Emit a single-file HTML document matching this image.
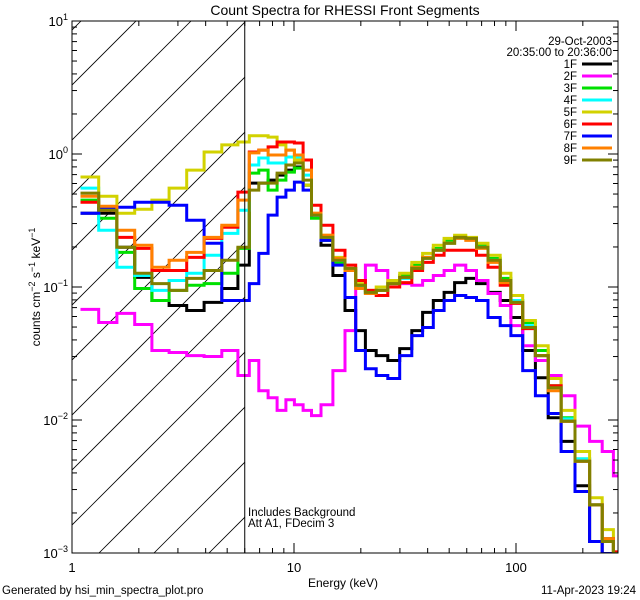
<!DOCTYPE html>
<html><head><meta charset="utf-8"><style>
html,body{margin:0;padding:0;background:#fff;}
svg{display:block;font-family:"Liberation Sans",sans-serif;}
</style></head><body>
<svg id="chart" width="640" height="600" viewBox="0 0 640 600" xmlns="http://www.w3.org/2000/svg">
<defs><clipPath id="plotclip"><rect x="72" y="21" width="546" height="532"/></clipPath>
<clipPath id="hatchclip"><rect x="72" y="21" width="172.7" height="532"/></clipPath></defs>
<rect width="640" height="600" fill="#fff"/>
<text x="345" y="15" font-size="14" text-anchor="middle">Count Spectra for RHESSI Front Segments</text>
<g id="hatch" clip-path="url(#hatchclip)"></g>
<g id="series" clip-path="url(#plotclip)"></g>
<g id="axes"></g>
<text x="248" y="516" font-size="11.5">Includes Background</text>
<text x="248" y="527" font-size="11.5">Att A1, FDecim  3</text>
<text x="343" y="587" font-size="12" text-anchor="middle">Energy (keV)</text>
<text transform="translate(40,287) rotate(-90)" font-size="12" text-anchor="middle">counts cm<tspan dy="-5" font-size="9">−2</tspan><tspan dy="5"> s</tspan><tspan dy="-5" font-size="9">−1</tspan><tspan dy="5"> keV</tspan><tspan dy="-5" font-size="9">−1</tspan></text>
<text x="2" y="594" font-size="11.5">Generated by hsi_min_spectra_plot.pro</text>
<text x="636" y="594" font-size="11.5" text-anchor="end">11-Apr-2023 19:24</text>
<text x="612" y="45" font-size="11.5" text-anchor="end">29-Oct-2003</text>
<text x="612" y="56" font-size="11.5" text-anchor="end">20:35:00 to 20:36:00</text>
<g id="legend"></g>
</svg>
<script>
const energies=[1.2,1.45,1.75,2.1,2.5,3.0,3.6,4.3,5.2,6.0,6.6,7.3,8,8.8,9.6,10.5,11.5,12.5,14,16,18,20,22,25,28,32,36,40,45,50,56,63,70,80,90,100,115,130,150,170,200,230,260,290];
const seriesNames=["1F","2F","3F","4F","5F","6F","7F","8F","9F"];
const s1F=[.358,.358,.199,.118,.0792,.0726,.0666,.0766,.0975,.146,.604,.604,.636,.694,.757,.798,.584,.347,.206,.122,.0666,.047,.0333,.0305,.028,.0344,.047,.0644,.0792,.091,.108,.116,.106,.091,.0792,.059,.0333,.0208,.0104,.0069,.0032,.00122,.00099,.00099];
const s2F=[.0678,.0541,.0633,.0522,.0333,.0322,.0305,.030,.0333,.0216,.028,.0166,.0147,.0118,.0142,.013,.0118,.0108,.013,.0235,.047,.103,.146,.133,.112,.106,.103,.112,.122,.133,.146,.133,.112,.0893,.0726,.0513,.0362,.028,.0216,.0152,.009,.0069,.0058,.0038];
const s3F=[.45,.329,.182,.0975,.0792,.0943,.103,.106,.127,.195,.719,.757,.535,.636,.731,.784,.584,.329,.224,.153,.133,.1,.091,.0943,.108,.122,.146,.167,.195,.224,.236,.232,.206,.164,.116,.0792,.0541,.0333,.0181,.0104,.0051,.0023,.00128,.00099];
const s4F=[.554,.267,.141,.122,.0943,.112,.127,.173,.253,.378,.826,.933,.855,.855,.949,.949,.694,.347,.236,.159,.133,.103,.0893,.0943,.106,.116,.138,.164,.189,.213,.232,.232,.199,.159,.112,.0792,.0513,.0305,.0175,.0102,.0051,.0023,.00122,.00099];
const s5F=[.671,.482,.358,.384,.45,.554,.757,1.035,1.17,1.23,1.37,1.37,1.34,1.17,1.07,.901,.584,.358,.245,.167,.138,.106,.0943,.1,.112,.127,.153,.179,.206,.232,.245,.236,.213,.173,.127,.0863,.056,.0362,.0205,.0118,.0058,.0026,.0015,.00102];
const s6F=[.434,.378,.236,.195,.133,.133,.167,.232,.281,.517,1.035,1.07,1.13,1.23,1.23,1.21,.901,.412,.291,.189,.146,.112,.0943,.0863,.1,.108,.133,.153,.173,.189,.189,.189,.173,.141,.103,.0753,.0487,.0305,.0181,.0098,.0049,.0023,.00128,.00102];
const s7F=[.358,.391,.398,.434,.434,.412,.318,.213,.0792,.0792,.106,.179,.347,.474,.535,.615,.535,.347,.224,.146,.0834,.0333,.0243,.0216,.0205,.0305,.0431,.0496,.0666,.0792,.0863,.0834,.0792,.059,.0513,.0431,.0235,.0152,.0112,.0058,.0029,.00122,.00099,.00099];
const s8F=[.482,.405,.267,.206,.141,.159,.182,.236,.291,.45,1.02,1.07,.983,.983,1.07,.983,.757,.358,.245,.164,.133,.0975,.0893,.0943,.106,.118,.141,.167,.189,.213,.232,.224,.195,.153,.108,.0766,.0496,.0305,.0166,.0098,.0049,.0023,.00128,.00099];
const s9F=[.508,.378,.199,.127,.106,.0943,.116,.133,.159,.199,.535,.604,.604,.719,.826,.855,.636,.347,.236,.159,.138,.103,.091,.0943,.106,.118,.138,.164,.189,.213,.236,.232,.199,.159,.112,.0766,.0496,.0305,.0175,.0098,.0049,.0023,.00122,.00099];
const seriesValues=[s1F,s2F,s3F,s4F,s5F,s6F,s7F,s8F,s9F];
const seriesColors=["#000000","#ff00ff","#00e000","#00ffff","#d2d200","#ff0000","#0000ff","#ff8000","#808000"];
const yTickExps=[1,0,-1,-2,-3];
const xTickLabels=["1","10","100"];

const NS="http://www.w3.org/2000/svg";
const X0=72,X1=618,Y0=21,Y1=553;
const xs=e=>X0+222*Math.log10(e);
const ys=v=>154-133*Math.log10(v);
function mk(tag,attrs,parent){const el=document.createElementNS(NS,tag);for(const k in attrs)el.setAttribute(k,attrs[k]);parent.appendChild(el);return el;}

const hatch=document.getElementById('hatch');
for(let k=-12;k<12;k++){
  const bx=52+k*55;
  const ln=mk('line',{x1:bx,y1:600,x2:bx+600,y2:0,stroke:'#000','stroke-width':0.8},hatch);
  
  
}
const axes=document.getElementById('axes');
const v6=mk('line',{x1:xs(6),y1:Y0,x2:xs(6),y2:Y1,stroke:'#000','stroke-width':1},axes);



const sg=document.getElementById('series');
const edges=[];
edges.push(energies[0]/Math.sqrt(energies[1]/energies[0]));
for(let i=1;i<energies.length;i++)edges.push(Math.sqrt(energies[i-1]*energies[i]));
edges.push(energies[energies.length-1]*Math.sqrt(energies[energies.length-1]/energies[energies.length-2]));
seriesValues.forEach((vals,si)=>{
  let d='';
  vals.forEach((v,i)=>{
    const y=ys(v).toFixed(1);
    d+=(i===0?'M':'L')+xs(edges[i]).toFixed(1)+','+y+'L'+xs(edges[i+1]).toFixed(1)+','+y;
  });
  const p=mk('path',{d:d,fill:'none',stroke:seriesColors[si],'stroke-width':3,'stroke-linejoin':'miter'},sg);
  
  
});

const fr=mk('rect',{x:X0,y:Y0,width:X1-X0,height:Y1-Y0,fill:'none',stroke:'#000','stroke-width':1},axes);


for(let e=-3;e<1;e++){
  for(let m=1;m<10;m++){
    const y=ys(m*Math.pow(10,e));
    const L=m===1?10:5;
    mk('line',{x1:X0,y1:y,x2:X0+L,y2:y,stroke:'#000'},axes);
    mk('line',{x1:X1,y1:y,x2:X1-L,y2:y,stroke:'#000'},axes);
  }
}
yTickExps.forEach(e=>{
  const y=ys(Math.pow(10,e));
  mk('line',{x1:X0,y1:y,x2:X0+10,y2:y,stroke:'#000'},axes);
  const t=mk('text',{x:X0-4,y:y+5,'font-size':13,'text-anchor':'end'},axes);
  
  
  t.innerHTML='10<tspan dy="-6" font-size="9">'+(e<0?'−'+(-e):e)+'</tspan>';
});
for(let e=0;e<3;e++){
  for(let m=1;m<10;m++){
    const E=m*Math.pow(10,e);const x=xs(E);
    if(x>X1)continue;
    const L=m===1?10:5;
    mk('line',{x1:x,y1:Y1,x2:x,y2:Y1-L,stroke:'#000'},axes);
    mk('line',{x1:x,y1:Y0,x2:x,y2:Y0+L,stroke:'#000'},axes);
  }
}
xTickLabels.forEach((lab,i)=>{
  const t=mk('text',{x:xs(Math.pow(10,i)),y:Y1+19,'font-size':13,'text-anchor':'middle'},axes);
  
  
  t.textContent=lab;
});
const lg=document.getElementById('legend');
seriesNames.forEach((n,i)=>{
  const y=68+i*12;
  const t=mk('text',{x:577,y:y,'font-size':11.5,'text-anchor':'end'},lg);
  
  
  t.textContent=n;
  const l=mk('line',{x1:582,y1:y-4,x2:612,y2:y-4,stroke:seriesColors[i],'stroke-width':3},lg);
  
  
});
</script>
</body></html>
